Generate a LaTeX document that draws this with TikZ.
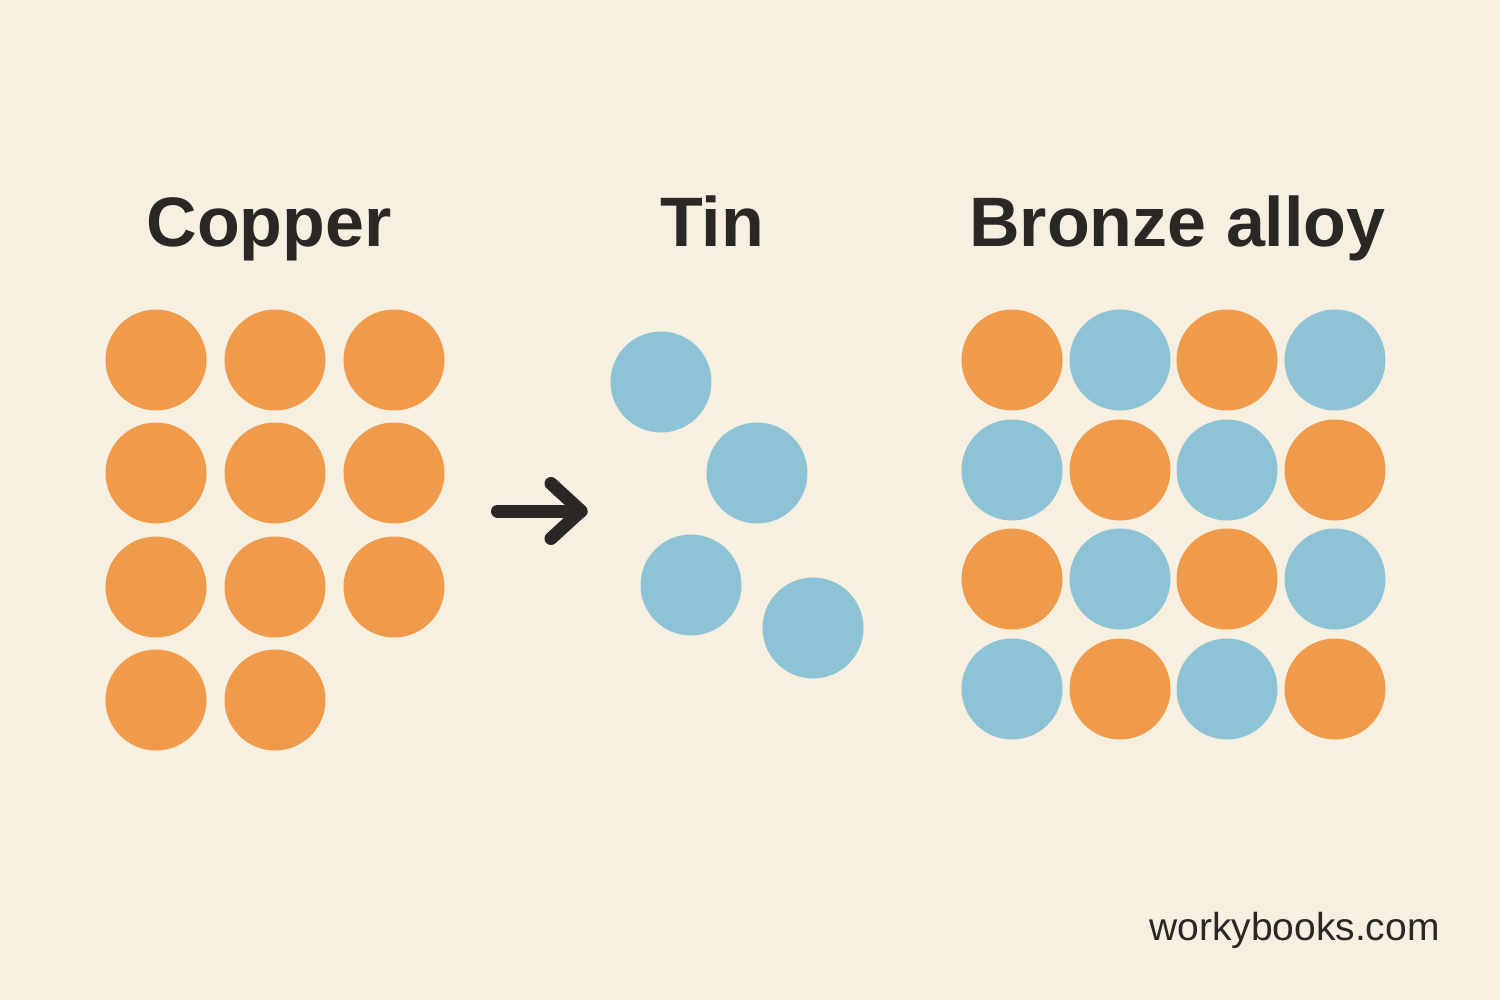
\documentclass[tikz,border=0pt]{standalone}
\usepackage{fontspec}
\setmainfont{Liberation Sans}
\definecolor{bg}{HTML}{F7F0E1}
\definecolor{cu}{HTML}{F09B4B}
\definecolor{sn}{HTML}{8DC3D5}
\definecolor{ink}{HTML}{2A2724}
\tikzset{
  atom/.style={circle, inner sep=0pt, minimum size=50.5pt},
  cuatom/.style={atom, fill=cu},
  snatom/.style={atom, fill=sn},
  title/.style={anchor=base, inner sep=0pt, text=ink, font=\fontsize{35}{40}\selectfont\bfseries},
  credit/.style={anchor=base east, inner sep=0pt, text=ink, font=\fontsize{19.5}{22}\selectfont},
  arrowline/.style={draw=ink, line width=6.5pt, line cap=round, line join=round}
}
\begin{document}
\begin{tikzpicture}[x=0.5pt,y=-0.5pt]
\fill[bg] (0,0) rectangle (1500,1000);
\useasboundingbox (0,0) rectangle (1500,1000);
% titles
\node[title] (tcu) at (269,247) {Copper};
\node[title] (tsn) at (712,247) {Tin};
\node[title] (tbr) at (1177.5,247) {Bronze alloy};
% copper
\foreach \r/\y in {1/360,2/473,3/587}{
  \foreach \c/\x in {1/156,2/275,3/394}{
    \node[cuatom] (cu-\r-\c) at (\x,\y) {};
  }
}
\node[cuatom] (cu-4-1) at (156,700) {};
\node[cuatom] (cu-4-2) at (275,700) {};
% arrow
\coordinate (aL) at (497.5,511);
\coordinate (aT) at (581,511);
\coordinate (aU) at (551,483.5);
\coordinate (aD) at (551,538.5);
\draw[arrowline] (aL) -- (aT);
\draw[arrowline] (aU) -- (aT) -- (aD);
% tin
\node[snatom] (sn-1) at (661,382) {};
\node[snatom] (sn-2) at (757,473) {};
\node[snatom] (sn-3) at (691,585) {};
\node[snatom] (sn-4) at (813,628) {};
% bronze
\foreach \r/\y in {1/360,2/470,3/579,4/689}{
  \foreach \c/\x in {1/1012,2/1120,3/1227,4/1335}{
    \pgfmathtruncatemacro{\p}{mod(\r+\c,2)}
    \ifnum\p=0
      \node[cuatom] (br-\r-\c) at (\x,\y) {};
    \else
      \node[snatom] (br-\r-\c) at (\x,\y) {};
    \fi
  }
}
% credit
\node[credit] (web) at (1440,940) {workybooks.com};
\end{tikzpicture}
\end{document}
